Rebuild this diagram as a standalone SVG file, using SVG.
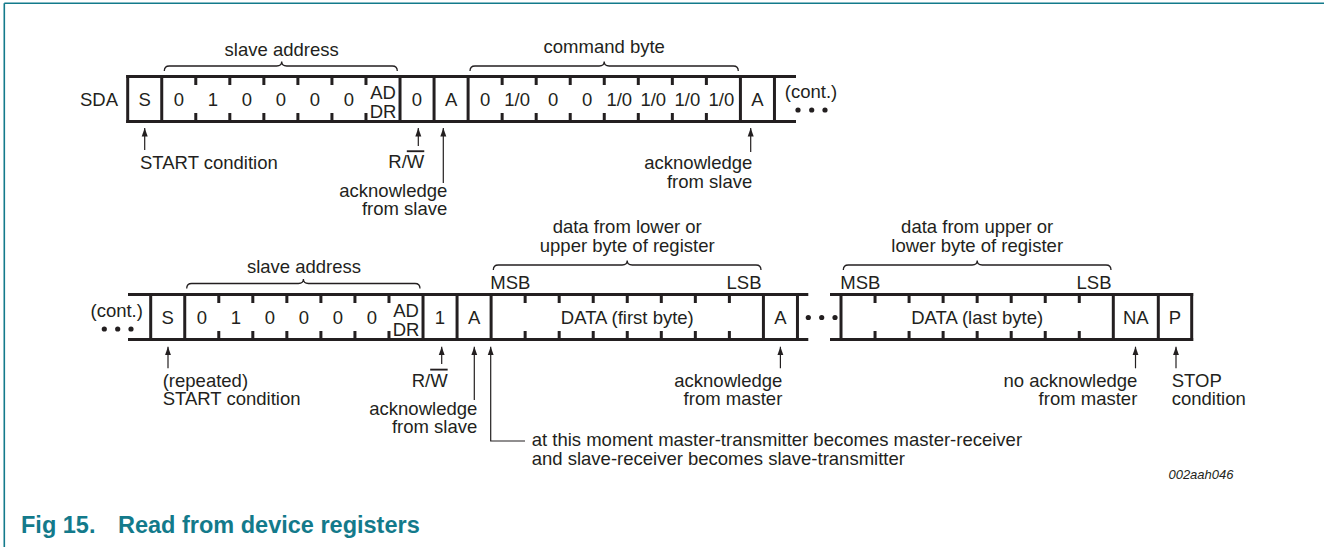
<svg xmlns="http://www.w3.org/2000/svg" width="1324" height="547" viewBox="0 0 1324 547">
<defs>
<style>
.t{font-family:"Liberation Sans",Arial,Helvetica,sans-serif;font-size:18.5px;fill:#231f20}
.c{text-anchor:middle}
.e{text-anchor:end}
.bar{stroke:#231f20;stroke-width:3;fill:none}
.tick{stroke:#231f20;stroke-width:3;fill:none}
.arr{stroke:#231f20;stroke-width:1.2;fill:none}
.brace{stroke:#231f20;stroke-width:1.3;fill:none}
.dot{fill:#231f20}
.frame{stroke:#137a8b;stroke-width:1.6;fill:none}
.cap{font-family:"Liberation Sans",Arial,Helvetica,sans-serif;font-weight:bold;font-size:23.5px;fill:#137a8b}
.ref{font-family:"Liberation Sans",Arial,Helvetica,sans-serif;font-style:italic;font-size:13px;fill:#231f20}
.ol{text-decoration:overline}
</style>
<marker id="ah" markerUnits="userSpaceOnUse" markerWidth="9" markerHeight="7" refX="8.5" refY="3.5" orient="auto">
<path d="M0,0.5 L8.5,3.5 L0,6.5 z" fill="#231f20"/>
</marker>
</defs>

<g id="frame">
<line class="frame" x1="4.3" y1="3.3" x2="1324" y2="3.3"/>
<line class="frame" x1="4.3" y1="3.3" x2="4.3" y2="547"/>
</g>

<!-- TOP ROW -->
<g id="row1">
<text class="t e" x="118" y="105.7">SDA</text>
<line class="bar" x1="126.2" y1="76.5" x2="796" y2="76.5"/>
<line class="bar" x1="126.2" y1="121.5" x2="796" y2="121.5"/>
<g id="r1-verticals">
<line class="bar" x1="127.7" y1="75" x2="127.7" y2="123"/>
<line class="bar" x1="161.74" y1="75" x2="161.74" y2="123"/>
<line class="bar" x1="400.02" y1="75" x2="400.02" y2="123"/>
<line class="bar" x1="434.06" y1="75" x2="434.06" y2="123"/>
<line class="bar" x1="468.1" y1="75" x2="468.1" y2="123"/>
<line class="bar" x1="740.42" y1="75" x2="740.42" y2="123"/>
<line class="bar" x1="774.46" y1="75" x2="774.46" y2="123"/>
</g>
<path class="tick" d="M195.78,76.5V85M195.78,113V121.5M229.82,76.5V85M229.82,113V121.5M263.86,76.5V85M263.86,113V121.5M297.9,76.5V85M297.9,113V121.5M331.94,76.5V85M331.94,113V121.5M365.98,76.5V85M365.98,113V121.5M502.14,76.5V85M502.14,113V121.5M536.18,76.5V85M536.18,113V121.5M570.22,76.5V85M570.22,113V121.5M604.26,76.5V85M604.26,113V121.5M638.3,76.5V85M638.3,113V121.5M672.34,76.5V85M672.34,113V121.5M706.38,76.5V85M706.38,113V121.5"/>
<g id="r1-cells">
<text class="t c" x="144.7" y="105.7">S</text>
<text class="t c" x="178.8" y="105.7">0</text>
<text class="t c" x="212.8" y="105.7">1</text>
<text class="t c" x="246.8" y="105.7">0</text>
<text class="t c" x="280.9" y="105.7">0</text>
<text class="t c" x="314.9" y="105.7">0</text>
<text class="t c" x="349" y="105.7">0</text>
<text class="t c" x="383" y="98.5">AD</text>
<text class="t c" x="383" y="117.5">DR</text>
<text class="t c" x="417" y="105.7">0</text>
<text class="t c" x="451.1" y="105.7">A</text>
<text class="t c" x="485.1" y="105.7">0</text>
<text class="t c" x="517.2" y="105.7">1/0</text>
<text class="t c" x="553.2" y="105.7">0</text>
<text class="t c" x="587.2" y="105.7">0</text>
<text class="t c" x="619.3" y="105.7">1/0</text>
<text class="t c" x="653.3" y="105.7">1/0</text>
<text class="t c" x="687.4" y="105.7">1/0</text>
<text class="t c" x="721.4" y="105.7">1/0</text>
<text class="t c" x="757.4" y="105.7">A</text>
</g>
<text class="t c" x="811" y="98.3">(cont.)</text>
<circle class="dot" cx="798" cy="110" r="2.6"/>
<circle class="dot" cx="811.7" cy="110" r="2.6"/>
<circle class="dot" cx="825" cy="110" r="2.6"/>
<path class="brace" d="M164.3,71 Q164.3,66 169.3,66 L276.7,66 Q281.7,66 281.7,61.5 Q281.7,66 286.7,66 L392.3,66 Q397.3,66 397.3,71"/>
<text class="t c" x="281.7" y="56">slave address</text>
<path class="brace" d="M470,71 Q470,66 475,66 L599.2,66 Q604.2,66 604.2,61.5 Q604.2,66 609.2,66 L733.3,66 Q738.3,66 738.3,71"/>
<text class="t c" x="604.2" y="52.5">command byte</text>
</g>

<g id="row1-labels">
<text class="t" x="140" y="169.3">START condition</text>
<text class="t" x="388.3" y="168.3">R/<tspan class="ol">W</tspan></text>
<text class="t e" x="447.3" y="196.7">acknowledge</text>
<text class="t e" x="447.3" y="215.2">from slave</text>
<text class="t e" x="752.3" y="169.3">acknowledge</text>
<text class="t e" x="752.3" y="188">from slave</text>
</g>

<!-- BOTTOM ROW -->
<g id="row2">
<text class="t c" x="116.7" y="316.7">(cont.)</text>
<circle class="dot" cx="104.3" cy="329" r="2.6"/>
<circle class="dot" cx="117.7" cy="329" r="2.6"/>
<circle class="dot" cx="131" cy="329" r="2.6"/>
<line class="bar" x1="128" y1="294.5" x2="808.3" y2="294.5"/>
<line class="bar" x1="128" y1="339.5" x2="808.3" y2="339.5"/>
<line class="bar" x1="830" y1="294.5" x2="1193.2" y2="294.5"/>
<line class="bar" x1="830" y1="339.5" x2="1193.2" y2="339.5"/>
<g id="r2-verticals">
<line class="bar" x1="150.7" y1="293" x2="150.7" y2="341"/>
<line class="bar" x1="184.74" y1="293" x2="184.74" y2="341"/>
<line class="bar" x1="423.02" y1="293" x2="423.02" y2="341"/>
<line class="bar" x1="457.06" y1="293" x2="457.06" y2="341"/>
<line class="bar" x1="491.1" y1="293" x2="491.1" y2="341"/>
<line class="bar" x1="763.42" y1="293" x2="763.42" y2="341"/>
<line class="bar" x1="797.46" y1="293" x2="797.46" y2="341"/>
<line class="bar" x1="841" y1="293" x2="841" y2="341"/>
<line class="bar" x1="1113.3" y1="293" x2="1113.3" y2="341"/>
<line class="bar" x1="1158.3" y1="293" x2="1158.3" y2="341"/>
<line class="bar" x1="1191.7" y1="293" x2="1191.7" y2="341"/>
</g>
<path class="tick" d="M218.78,294.5V303M218.78,331V339.5M252.82,294.5V303M252.82,331V339.5M286.86,294.5V303M286.86,331V339.5M320.9,294.5V303M320.9,331V339.5M354.94,294.5V303M354.94,331V339.5M388.98,294.5V303M388.98,331V339.5M525.14,294.5V303M525.14,331V339.5M559.18,294.5V303M559.18,331V339.5M593.22,294.5V303M593.22,331V339.5M627.26,294.5V303M627.26,331V339.5M661.3,294.5V303M661.3,331V339.5M695.34,294.5V303M695.34,331V339.5M729.38,294.5V303M729.38,331V339.5M875.04,294.5V303M875.04,331V339.5M909.08,294.5V303M909.08,331V339.5M943.12,294.5V303M943.12,331V339.5M977.16,294.5V303M977.16,331V339.5M1011.2,294.5V303M1011.2,331V339.5M1045.24,294.5V303M1045.24,331V339.5M1079.28,294.5V303M1079.28,331V339.5"/>
<g id="r2-cells">
<text class="t c" x="167.7" y="323.7">S</text>
<text class="t c" x="201.8" y="323.7">0</text>
<text class="t c" x="235.8" y="323.7">1</text>
<text class="t c" x="269.8" y="323.7">0</text>
<text class="t c" x="303.9" y="323.7">0</text>
<text class="t c" x="337.9" y="323.7">0</text>
<text class="t c" x="372" y="323.7">0</text>
<text class="t c" x="406" y="316.5">AD</text>
<text class="t c" x="406" y="335.5">DR</text>
<text class="t c" x="440" y="323.7">1</text>
<text class="t c" x="474.1" y="323.7">A</text>
<text class="t c" x="627.3" y="323.7">DATA (first byte)</text>
<text class="t c" x="780.4" y="323.7">A</text>
<text class="t c" x="977.2" y="323.7">DATA (last byte)</text>
<text class="t c" x="1135.8" y="323.7">NA</text>
<text class="t c" x="1175" y="323.7">P</text>
</g>
<circle class="dot" cx="808.3" cy="317.5" r="2.6"/>
<circle class="dot" cx="821.7" cy="317.5" r="2.6"/>
<circle class="dot" cx="835" cy="317.5" r="2.6"/>
<path class="brace" d="M186.7,288.5 Q186.7,283.5 191.7,283.5 L298.4,283.5 Q303.4,283.5 303.4,279 Q303.4,283.5 308.4,283.5 L415,283.5 Q420,283.5 420,288.5"/>
<text class="t c" x="304" y="273.3">slave address</text>
<path class="brace" d="M493.3,270 Q493.3,265 498.3,265 L622.2,265 Q627.2,265 627.2,260.5 Q627.2,265 632.2,265 L756,265 Q761,265 761,270"/>
<text class="t c" x="627.2" y="232.5">data from lower or</text>
<text class="t c" x="627.2" y="251.5">upper byte of register</text>
<text class="t" x="490.3" y="289.3">MSB</text>
<text class="t e" x="761.5" y="289.3">LSB</text>
<path class="brace" d="M843.3,270 Q843.3,265 848.3,265 L972.2,265 Q977.2,265 977.2,260.5 Q977.2,265 982.2,265 L1106,265 Q1111,265 1111,270"/>
<text class="t c" x="977.2" y="232.5">data from upper or</text>
<text class="t c" x="977.2" y="251.5">lower byte of register</text>
<text class="t" x="840.3" y="289.3">MSB</text>
<text class="t e" x="1111.5" y="289.3">LSB</text>
</g>

<g id="row2-labels">
<text class="t" x="162.7" y="386.7">(repeated)</text>
<text class="t" x="162.7" y="405">START condition</text>
<text class="t" x="411.7" y="386.7">R/<tspan class="ol">W</tspan></text>
<text class="t e" x="477.3" y="415">acknowledge</text>
<text class="t e" x="477.3" y="433.3">from slave</text>
<text class="t" x="531.7" y="446">at this moment master-transmitter becomes master-receiver</text>
<text class="t" x="531.7" y="465">and slave-receiver becomes slave-transmitter</text>
<text class="t e" x="782.3" y="386.7">acknowledge</text>
<text class="t e" x="782.3" y="405">from master</text>
<text class="t e" x="1137.3" y="386.7">no acknowledge</text>
<text class="t e" x="1137.3" y="405">from master</text>
<text class="t" x="1171.7" y="386.7">STOP</text>
<text class="t" x="1171.7" y="405">condition</text>
</g>

<g id="connectors">
<line class="arr" x1="144.7" y1="150" x2="144.7" y2="128" marker-end="url(#ah)"/>
<line class="arr" x1="418.3" y1="146" x2="418.3" y2="128" marker-end="url(#ah)"/>
<line class="arr" x1="443.3" y1="183" x2="443.3" y2="128" marker-end="url(#ah)"/>
<line class="arr" x1="750.7" y1="152" x2="750.7" y2="128" marker-end="url(#ah)"/>
<line class="arr" x1="168" y1="368.3" x2="168" y2="346.7" marker-end="url(#ah)"/>
<line class="arr" x1="441.7" y1="364" x2="441.7" y2="346.7" marker-end="url(#ah)"/>
<line class="arr" x1="474.3" y1="400" x2="474.3" y2="346.7" marker-end="url(#ah)"/>
<polyline class="arr" points="525,441 490.7,441 490.7,346.7" marker-end="url(#ah)"/>
<line class="arr" x1="780.4" y1="368.3" x2="780.4" y2="346.7" marker-end="url(#ah)"/>
<line class="arr" x1="1135.5" y1="368.3" x2="1135.5" y2="346.7" marker-end="url(#ah)"/>
<line class="arr" x1="1176" y1="368.3" x2="1176" y2="346.7" marker-end="url(#ah)"/>
</g>

<g id="caption">
<text class="ref" x="1233.5" y="479" text-anchor="end">002aah046</text>
<text class="cap" x="21" y="533.3">Fig 15.</text>
<text class="cap" x="118" y="533.3">Read from device registers</text>
</g>
</svg>
